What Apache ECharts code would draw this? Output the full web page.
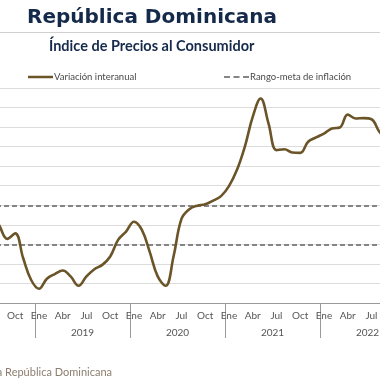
<!DOCTYPE html>
<html>
<head>
<meta charset="utf-8">
<script src="https://cdn.jsdelivr.net/npm/echarts@6/dist/echarts.min.js"></script>
<style>
html,body{margin:0;padding:0;background:#fff;overflow:hidden;width:380px;height:380px;}
#wrap{position:relative;width:380px;height:380px;overflow:hidden;}
#chart{position:absolute;left:-60px;top:0;width:500px;height:380px;}
</style>
</head>
<body>
<div id="wrap"><div id="chart"></div></div>
<script>
// Month labels (Jan 2018 – Dec 2022)
const monthNames = ['Ene','Feb','Mar','Abr','May','Jun','Jul','Ago','Sep','Oct','Nov','Dic'];
const years = ['2018','2019','2020','2021','2022'];
// Year-on-year CPI variation (%)
const values2018 = [4.2, 3.9, 3.9, 4.3, 4.5, 4.6, 4.6, 3.95, 3.28, 3.56, 2.3, 1.19];
const values2019 = [0.73, 1.24, 1.48, 1.66, 1.36, 0.88, 1.36, 1.73, 1.95, 2.38, 3.23, 3.65];
const values2020 = [4.16, 3.74, 2.6, 1.36, 0.88, 2.38, 4.3, 4.8, 4.98, 5.05, 5.24, 5.47];
const values2021 = [5.98, 6.8, 7.99, 9.52, 10.46, 9.18, 7.82, 7.87, 7.7, 7.68, 8.25, 8.47];
const values2022 = [8.67, 8.93, 8.98, 9.64, 9.44, 9.46, 9.4, 8.76, 8.3, null, null, null];
// Inflation target range (%)
const targetRange = [3, 5];

const categories = [];
years.forEach(y => monthNames.forEach(m => categories.push(m + ' ' + y)));
const values = [].concat(values2018, values2019, values2020, values2021, values2022);

const FONT = 'Lato';
const OX = 60; // chart canvas is shifted 60px left of the visible frame
const chart = echarts.init(document.getElementById('chart'), null, {renderer: 'canvas'});
chart.setOption({
  animation: false,
  backgroundColor: '#fff',
  textStyle: {fontFamily: FONT},
  title: [
    {text: 'República Dominicana', left: 27 + OX, top: 8, padding: 0,
     textStyle: {fontFamily: 'DejaVu Sans', fontSize: 20, fontWeight: 'bold', color: '#15294a'}},
    {text: 'Índice de Precios al Consumidor', left: 49 + OX, top: 39, padding: 0,
     textStyle: {fontFamily: FONT, fontSize: 14.5, fontWeight: 'bold', color: '#15294a'}}
  ],
  graphic: [
    {type: 'line', shape: {x1: 0, y1: 32.5, x2: 500, y2: 32.5}, style: {stroke: '#d0d0d0', lineWidth: 1}},
    {type: 'text', x: 112 + OX, y: 372,
     style: {text: 'Fuente: Banco Central de la República Dominicana', fill: '#8c7d6e',
             font: '11px ' + FONT, textAlign: 'right', textVerticalAlign: 'middle'}}
  ],
  legend: [
    {data: [{name: 'Variación interanual', icon: 'path://M0,0h25v2.5h-25z'}],
     left: 28 + OX, top: 72, padding: 0, itemWidth: 25, itemHeight: 2.5,
     textStyle: {fontFamily: FONT, fontSize: 9.5, color: '#4a4a4a', padding: [0,0,0,-4]}},
    {data: [{name: 'Rango-meta de inflación', icon: 'path://M0,0h6v2h-6zM9.5,0h6v2h-6zM19,0h6v2h-6z'}],
     left: 224 + OX, top: 72, padding: 0, itemWidth: 25, itemHeight: 2,
     textStyle: {fontFamily: FONT, fontSize: 9.5, color: '#4a4a4a', padding: [0,0,0,-4]}}
  ],
  grid: {left: 0, top: 88, width: 475, height: 215, containLabel: false, outerBoundsMode: 'none'},
  xAxis: [
    {type: 'category', data: categories, boundaryGap: true, position: 'bottom',
     axisLine: {lineStyle: {color: '#9a9a9a', width: 1}},
     axisTick: {show: false},
     axisLabel: {interval: function (i) { return i % 3 === 0; },
                 formatter: function (v) { return v.split(' ')[0]; },
                 color: '#555', fontSize: 10, fontFamily: FONT, margin: 8}},
    {type: 'category', data: years, boundaryGap: true, position: 'bottom',
     axisLine: {show: false},
     axisTick: {show: true, length: 35, interval: 0, alignWithLabel: false, lineStyle: {color: '#9a9a9a'}},
     axisLabel: {color: '#555', fontSize: 10, fontFamily: FONT, margin: 25}}
  ],
  yAxis: {type: 'value', min: 0, max: 11, interval: 1,
    axisLabel: {show: false}, axisLine: {show: false}, axisTick: {show: false},
    splitLine: {lineStyle: {color: '#dcdcdc', width: 1}}},
  series: [
    {name: 'Variación interanual', type: 'line', data: values, xAxisIndex: 0,
     smooth: 0.4, symbol: 'none', connectNulls: false,
     lineStyle: {color: '#6b5428', width: 2.6}, itemStyle: {color: '#6b5428'}, z: 5},
    {name: 'Rango-meta de inflación', type: 'line', data: [], xAxisIndex: 0, symbol: 'none',
     lineStyle: {color: '#858585', width: 2, type: [5, 3]}, itemStyle: {color: '#858585'},
     markLine: {silent: true, symbol: 'none', label: {show: false},
       lineStyle: {color: '#858585', width: 2.2, type: [5, 3]},
       data: targetRange.map(v => ({yAxis: v}))}, z: 4}
  ]
});
</script>
</body>
</html>
